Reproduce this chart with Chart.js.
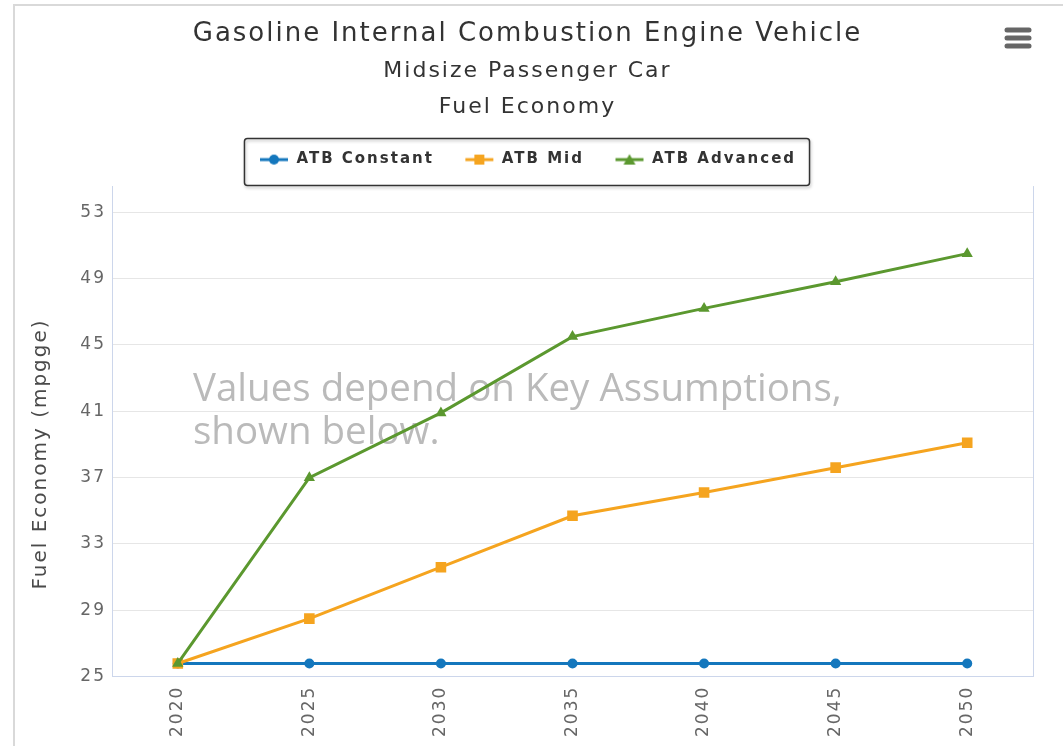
<!DOCTYPE html>
<html>
<head>
<meta charset="utf-8">
<script src="https://cdn.jsdelivr.net/npm/chart.js@4/dist/chart.umd.min.js"></script>
<style>
  html, body { margin: 0; padding: 0; background: #fff; }
  #wrap { width: 1063px; height: 746px; position: relative; }
</style>
</head>
<body>
<div id="wrap"><canvas id="grafico" width="1063" height="746"></canvas></div>
<script>
// datos
let anios = ['2020', '2025', '2030', '2035', '2040', '2045', '2050']
let atbConstant = [25.8, 25.8, 25.8, 25.8, 25.8, 25.8, 25.8]
let atbMid = [25.8, 28.5, 31.6, 34.7, 36.1, 37.6, 39.1]
let atbAdvanced = [25.8, 37.0, 40.9, 45.5, 47.2, 48.8, 50.5]
let yTicks = [25, 29, 33, 37, 41, 45, 49, 53]

let titulo = 'Gasoline Internal Combustion Engine Vehicle'
let subtitulos = ['Midsize Passenger Car', 'Fuel Economy']
let tituloEjeY = 'Fuel Economy (mpgge)'
let avisoTexto = ['Values depend on Key Assumptions,', 'shown below.']

const azul = '#1477bd'
const naranja = '#f5a41f'
const verde = '#5b982f'

// icono de la leyenda: linea con marcador
function iconoLeyenda(color, forma){
    let c = document.createElement('canvas')
    c.width = 42
    c.height = 14
    let x = c.getContext('2d')
    x.strokeStyle = color
    x.fillStyle = color
    x.lineWidth = 3
    x.beginPath()
    x.moveTo(13, 7)
    x.lineTo(41, 7)
    x.stroke()
    let cx = 27
    x.beginPath()
    if (forma == 'circle') {
        x.arc(cx, 7, 5, 0, Math.PI * 2)
    } else if (forma == 'rect') {
        x.rect(cx - 5, 2, 10, 10)
    } else {
        x.moveTo(cx, 1.5)
        x.lineTo(cx + 6, 12)
        x.lineTo(cx - 6, 12)
        x.closePath()
    }
    x.fill()
    return c
}

const corrimientoLeyenda = -6

const espaciado = {
    id: 'espaciado',
    beforeLayout(chart){
        chart.ctx.letterSpacing = '2px'
        let ley = chart.legend
        if (ley && !ley._parcheado) {
            let fitOriginal = ley.fit
            ley.fit = function(){
                fitOriginal.call(this)
                this.height += 9
            }
            let drawOriginal = ley.draw
            ley.draw = function(){
                this.ctx.save()
                this.ctx.translate(corrimientoLeyenda, 0)
                drawOriginal.call(this)
                this.ctx.restore()
            }
            ley._parcheado = true
        }
    },
    beforeDraw(chart){
        let ctx = chart.ctx
        ctx.save()
        ctx.strokeStyle = '#d9d9d9'
        ctx.lineWidth = 2
        ctx.beginPath()
        ctx.moveTo(14, 746)
        ctx.lineTo(14, 5)
        ctx.lineTo(1063, 5)
        ctx.stroke()
        ctx.restore()
        ctx.letterSpacing = '2px'
    },
    beforeDatasetsDraw(chart){
        let ctx = chart.ctx
        let a = chart.chartArea
        ctx.save()
        // titulo del eje y
        ctx.fillStyle = '#4a4a4a'
        ctx.font = '20px "DejaVu Sans", sans-serif'
        ctx.textAlign = 'center'
        ctx.textBaseline = 'middle'
        ctx.translate(41, 454)
        ctx.rotate(-Math.PI / 2)
        ctx.fillText(tituloEjeY, 0, 0)
        ctx.restore()

        ctx.save()
        ctx.letterSpacing = '0px'
        // borde derecho del area
        ctx.strokeStyle = '#ccd6eb'
        ctx.lineWidth = 1
        ctx.beginPath()
        ctx.moveTo(a.right + 0.5, a.top)
        ctx.lineTo(a.right + 0.5, a.bottom)
        ctx.stroke()
        // texto de aviso
        ctx.fillStyle = '#bababa'
        ctx.font = '38.5px "Open Sans", sans-serif'
        ctx.textBaseline = 'middle'
        ctx.fillText(avisoTexto[0], 193, 390)
        ctx.fillText(avisoTexto[1], 193, 433)
        ctx.restore()
    },
    afterDraw(chart){
        let ctx = chart.ctx
        ctx.save()
        ctx.letterSpacing = '0px'
        // caja de la leyenda
        let cajas = chart.legend.legendHitBoxes
        let izq = Math.min(...cajas.map(b => b.left)) + 12 - 15 + corrimientoLeyenda
        let der = Math.max(...cajas.map(b => b.left + b.width)) + 13 + corrimientoLeyenda
        ctx.shadowColor = 'rgba(0,0,0,0.25)'
        ctx.shadowOffsetX = 1
        ctx.shadowOffsetY = 2
        ctx.shadowBlur = 3
        ctx.strokeStyle = '#333'
        ctx.lineWidth = 1.5
        ctx.beginPath()
        ctx.roundRect(izq + 0.5, 138.5, der - izq, 47, 3)
        ctx.stroke()
        ctx.shadowColor = 'transparent'
        // menu
        ctx.strokeStyle = '#666'
        ctx.lineWidth = 5
        ctx.lineCap = 'round'
        for (let i = 0; i < 3; i++) {
            ctx.beginPath()
            ctx.moveTo(1007, 30 + i * 8)
            ctx.lineTo(1029, 30 + i * 8)
            ctx.stroke()
        }
        ctx.restore()
    }
}

let canvaGrafico = document.querySelector('#grafico')

new Chart(canvaGrafico, {
    type: 'line',
    data: {
        labels: anios,
        datasets: [{
            label: 'ATB Constant',
            data: atbConstant,
            borderColor: azul,
            backgroundColor: azul,
            pointBackgroundColor: azul,
            pointBorderWidth: 0,
            pointStyle: 'circle',
            pointRadius: 5,
            borderWidth: 3,
            order: 2,
            legendIcon: iconoLeyenda(azul, 'circle')
        }, {
            label: 'ATB Mid',
            data: atbMid,
            borderColor: naranja,
            backgroundColor: naranja,
            pointBackgroundColor: naranja,
            pointBorderWidth: 0,
            pointStyle: 'rect',
            pointRadius: 7.5,
            borderWidth: 3,
            order: 1,
            legendIcon: iconoLeyenda(naranja, 'rect')
        }, {
            label: 'ATB Advanced',
            data: atbAdvanced,
            borderColor: verde,
            backgroundColor: verde,
            pointBackgroundColor: verde,
            pointBorderWidth: 0,
            pointStyle: 'triangle',
            pointRadius: 6.5,
            borderWidth: 3,
            order: 0,
            legendIcon: iconoLeyenda(verde, 'triangle')
        }]
    },
    options: {
        responsive: false,
        animation: false,
        lineTension: 0,
        layout: {
            padding: { top: 5, left: 22, right: 30, bottom: 0 }
        },
        scales: {
            x: {
                offset: true,
                grid: { display: false, drawTicks: false },
                border: { display: true, color: '#ccd6eb', width: 1 },
                ticks: {
                    color: '#666',
                    font: { family: 'DejaVu Sans', size: 17 },
                    minRotation: 90,
                    maxRotation: 90,
                    padding: 9
                }
            },
            y: {
                min: 25,
                max: 54.57,
                afterBuildTicks: (eje) => { eje.ticks = yTicks.map(v => ({ value: v })) },
                afterFit: (eje) => { eje.width = 90 },
                grid: { color: '#e6e6e6', drawTicks: false, lineWidth: 1 },
                border: { display: true, color: '#ccd6eb', width: 1 },
                ticks: {
                    color: '#666',
                    font: { family: 'DejaVu Sans', size: 17 },
                    padding: 6
                }
            }
        },
        plugins: {
            title: {
                display: true,
                text: titulo,
                color: '#333',
                font: { family: 'DejaVu Sans', size: 26, weight: 'normal', lineHeight: 1.1 },
                padding: { top: 15, bottom: 0 }
            },
            subtitle: {
                display: true,
                text: subtitulos,
                color: '#333',
                font: { family: 'DejaVu Sans', size: 22, lineHeight: '36px' },
                padding: { top: 5, bottom: 8 }
            },
            legend: {
                position: 'top',
                labels: {
                    usePointStyle: true,
                    pointStyleWidth: 42,
                    padding: 18.5,
                    color: '#333',
                    font: { family: 'DejaVu Sans', size: 15, weight: 'bold' },
                    sort: (a, b) => a.datasetIndex - b.datasetIndex,
                    generateLabels: (chart) => chart.data.datasets.map((ds, i) => ({
                        text: ds.label,
                        datasetIndex: i,
                        pointStyle: ds.legendIcon,
                        fillStyle: ds.borderColor,
                        strokeStyle: ds.borderColor,
                        fontColor: '#333',
                        lineWidth: 0,
                        hidden: false
                    }))
                }
            },
            tooltip: { enabled: false }
        }
    },
    plugins: [espaciado]
})
</script>
</body>
</html>
